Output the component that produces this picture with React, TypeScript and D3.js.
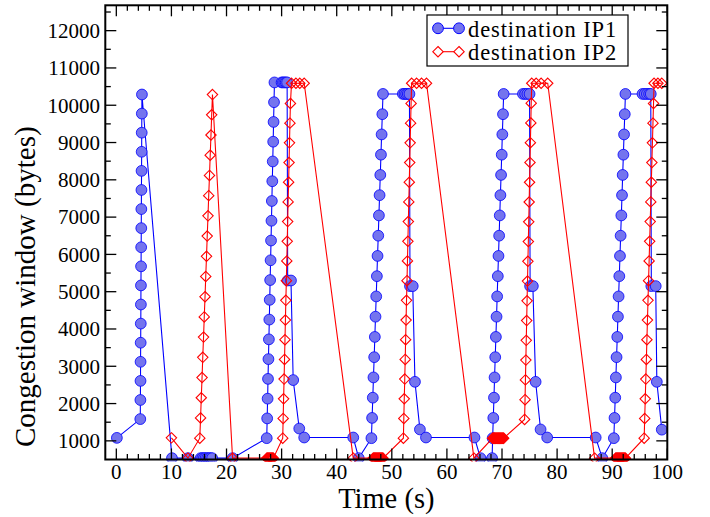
import React from "react";
import * as d3 from "d3";

// ---- data (time in s, congestion window in bytes) ----
const blueTime = [
  0.1,
  4.35, 4.37, 4.39, 4.4, 4.42, 4.44, 4.46, 4.47, 4.49, 4.51, 4.53, 4.54, 4.56, 4.58, 4.6, 4.61, 4.63, 4.65,
  10.1, 13.0, 15.3, 15.6, 15.9, 16.2, 16.5, 16.8, 17.1, 17.4, 21.1,
  27.3, 27.38, 27.46, 27.53, 27.61, 27.69, 27.77, 27.84, 27.92, 28.0, 28.08, 28.16, 28.23, 28.31, 28.39, 28.47, 28.54, 28.62, 28.7,
  30.0, 30.25, 30.5, 30.75, 31.0,
  31.1, 31.7, 32.1, 33.2, 34.1, 43.0, 44.0,
  46.3, 46.42, 46.55, 46.67, 46.8, 46.92, 47.04, 47.17, 47.29, 47.41, 47.54, 47.66, 47.78, 47.91, 48.03, 48.15, 48.28, 48.4,
  52.0, 52.3, 52.6, 52.9, 53.2,
  53.3, 53.8, 54.2, 55.1, 56.2, 65.0, 66.1, 68.2,
  68.3, 68.42, 68.54, 68.65, 68.77, 68.89, 69.01, 69.12, 69.24, 69.36, 69.48, 69.59, 69.71, 69.83, 69.95, 70.06, 70.18, 70.3,
  73.8, 74.2, 74.6, 75.0,
  75.1, 75.6, 76.1, 77.0, 78.2, 87.0, 88.2,
  90.3, 90.42, 90.55, 90.67, 90.79, 90.92, 91.04, 91.16, 91.29, 91.41, 91.53, 91.66, 91.78, 91.9, 92.03, 92.15, 92.28, 92.4,
  95.5, 95.9, 96.3, 96.7, 97.0,
  97.1, 97.9, 98.1, 99.0,
];
const blueCwnd = [
  1080,
  1584, 2096, 2608, 3120, 3632, 4144, 4656, 5168, 5680, 6192, 6704, 7216, 7728, 8240, 8752, 9264, 9776, 10288,
  536, 536, 536, 536, 536, 536, 536, 536, 536, 536, 536,
  1072, 1602, 2132, 2662, 3192, 3722, 4252, 4782, 5312, 5842, 6372, 6902, 7432, 7962, 8492, 9022, 9552, 10082, 10612,
  10612, 10612, 10612, 10612, 10612,
  5300, 5300, 2630, 1330, 1090, 1090, 536,
  1072, 1615, 2158, 2701, 3244, 3787, 4330, 4873, 5416, 5959, 6502, 7045, 7588, 8131, 8674, 9217, 9760, 10303,
  10303, 10303, 10303, 10303, 10303,
  5150, 5150, 2583, 1306, 1090, 1090, 536, 536,
  1072, 1615, 2158, 2701, 3244, 3787, 4330, 4873, 5416, 5959, 6502, 7045, 7588, 8131, 8674, 9217, 9760, 10303,
  10303, 10303, 10303, 10303,
  5150, 5150, 2583, 1306, 1090, 1090, 536,
  1072, 1615, 2158, 2701, 3244, 3787, 4330, 4873, 5416, 5959, 6502, 7045, 7588, 8131, 8674, 9217, 9760, 10303,
  10303, 10303, 10303, 10303, 10303,
  5150, 5150, 2583, 1300,
];

const redTime = [
  10.0, 13.0,
  15.15, 15.29, 15.42, 15.56, 15.69, 15.83, 15.96, 16.1, 16.23, 16.37, 16.5, 16.64, 16.77, 16.91, 17.04, 17.18, 17.31, 17.45,
  21.1,
  27.3, 27.4, 27.5, 27.6, 27.7, 27.8, 27.9, 28.0, 28.1, 28.2, 28.3, 28.4, 28.5,
  30.2, 30.28, 30.36, 30.45, 30.53, 30.61, 30.69, 30.77, 30.86, 30.94, 31.02, 31.1, 31.18, 31.27, 31.35, 31.43, 31.51, 31.6,
  31.8, 32.6, 33.3, 34.1,
  43.0,
  46.6, 46.7, 46.8, 46.9, 47.0, 47.1, 47.2, 47.3, 47.4, 47.5, 47.6, 47.7, 47.8, 47.9, 48.0, 48.1, 48.2, 48.3, 48.4,
  52.1, 52.18, 52.26, 52.35, 52.43, 52.51, 52.59, 52.67, 52.76, 52.84, 52.92, 53.0, 53.08, 53.17, 53.25, 53.33, 53.41, 53.5,
  53.6, 54.5, 55.4, 56.3,
  64.9,
  68.3, 68.4, 68.5, 68.6, 68.7, 68.8, 68.9, 69.0, 69.1, 69.2, 69.3, 69.4, 69.5, 69.6, 69.7, 69.8, 69.9, 70.0, 70.1, 70.2, 70.3,
  74.1, 74.18, 74.25, 74.33, 74.4, 74.48, 74.55, 74.63, 74.7, 74.78, 74.85, 74.93, 75.0, 75.08, 75.15, 75.23, 75.3,
  75.4, 76.2, 77.1, 78.3,
  86.8,
  90.6, 90.7, 90.8, 90.9, 91.0, 91.1, 91.2, 91.3, 91.4, 91.5, 91.6, 91.7, 91.8, 91.9, 92.0, 92.1, 92.2, 92.3, 92.4,
  95.8, 95.9, 96.0, 96.1, 96.2, 96.3, 96.4, 96.5, 96.6, 96.7, 96.8, 96.9, 97.0, 97.1, 97.2, 97.3, 97.4, 97.5,
  97.6, 98.3, 99.0,
];
const redCwnd = [
  1080, 536,
  1072, 1614, 2156, 2698, 3240, 3782, 4324, 4866, 5408, 5950, 6492, 7034, 7576, 8118, 8660, 9202, 9744, 10286,
  536,
  536, 536, 536, 536, 536, 536, 536, 536, 536, 536, 536, 536, 536,
  1072, 1600, 2128, 2656, 3184, 3712, 4240, 4768, 5296, 5824, 6352, 6880, 7408, 7936, 8464, 8992, 9520, 10048,
  10590, 10590, 10590, 10590,
  536,
  536, 536, 536, 536, 536, 536, 536, 536, 536, 536, 536, 536, 536, 536, 536, 536, 536, 536, 536,
  1072, 1600, 2128, 2656, 3184, 3712, 4240, 4768, 5296, 5824, 6352, 6880, 7408, 7936, 8464, 8992, 9520, 10048,
  10590, 10590, 10590, 10590,
  536,
  1072, 1072, 1072, 1072, 1072, 1072, 1072, 1072, 1072, 1072, 1072, 1072, 1072, 1072, 1072, 1072, 1072, 1072, 1072, 1072, 1072,
  1575, 2105, 2635, 3165, 3695, 4225, 4755, 5285, 5815, 6345, 6875, 7405, 7935, 8465, 8995, 9525, 10055,
  10590, 10590, 10590, 10590,
  536,
  536, 536, 536, 536, 536, 536, 536, 536, 536, 536, 536, 536, 536, 536, 536, 536, 536, 536, 536,
  1072, 1600, 2128, 2656, 3184, 3712, 4240, 4768, 5296, 5824, 6352, 6880, 7408, 7936, 8464, 8992, 9520, 10048,
  10590, 10590, 10590,
];

const xTicks = [0, 10, 20, 30, 40, 50, 60, 70, 80, 90, 100];
const yTicks = [1000, 2000, 3000, 4000, 5000, 6000, 7000, 8000, 9000, 10000, 11000, 12000];
const seriesNames = ["destination IP1", "destination IP2"];

const FONT = "Liberation Serif, Times New Roman, Times, serif";
const BLUE = "#0000ff";
const BLUE_FILL = "#7474ee";
const RED = "#ff0000";

const L = 105.3, R = 667.3, T = 5.3, B = 459.5;

function diamond(cx: number, cy: number, h = 5.2) {
  return `M${cx},${cy - h}L${cx + h},${cy}L${cx},${cy + h}L${cx - h},${cy}Z`;
}

export default function App() {
  const x = d3.scaleLinear().domain([-2, 100]).range([L, R]);
  const y = d3.scaleLinear().domain([500, 12680]).range([B, T]);

  const blue = blueTime.map((t, i) => [t, blueCwnd[i]] as [number, number]);
  const red = redTime.map((t, i) => [t, redCwnd[i]] as [number, number]);
  const line = d3.line<[number, number]>().x((d) => x(d[0])).y((d) => y(d[1]));

  const xMinor = d3.range(0, 101, 2).filter((v) => v % 10 !== 0);
  const yMinor = d3.range(1500, 12680, 1000);

  return (
    <svg width={710} height={517} style={{ position: "absolute", left: 0, top: 0, background: "#fff" }}>
      <defs>
        <clipPath id="plotclip">
          <rect x={L} y={T - 2} width={R - L + 3} height={B - T + 4} />
        </clipPath>
      </defs>
      <rect x={0} y={0} width={710} height={517} fill="#fff" />
      <g clipPath="url(#plotclip)">
        <path d={line(blue) || ""} fill="none" stroke={BLUE} strokeWidth={1.1} />
        {blue.map((d, i) => (
          <circle key={"b" + i} cx={x(d[0])} cy={y(d[1])} r={5.4} fill={BLUE_FILL} stroke={BLUE} strokeWidth={1} strokeOpacity={0.8} />
        ))}
        <path d={line(red) || ""} fill="none" stroke={RED} strokeWidth={1.1} />
        {red.map((d, i) => (
          <path key={"r" + i} d={diamond(x(d[0]), y(d[1]))} fill="none" stroke={RED} strokeWidth={1.1} />
        ))}
      </g>

      {/* frame */}
      <rect x={L} y={T} width={R - L} height={B - T} fill="none" stroke="#000" strokeWidth={2} />

      {/* x ticks */}
      {xTicks.map((v) => (
        <g key={"xt" + v}>
          <line x1={x(v)} x2={x(v)} y1={B} y2={B - 11} stroke="#000" strokeWidth={1.3} />
          <line x1={x(v)} x2={x(v)} y1={T} y2={T + 11} stroke="#000" strokeWidth={1.3} />
          <text x={x(v)} y={478.5} textAnchor="middle" fontFamily={FONT} fontSize={21} fill="#000">
            {v}
          </text>
        </g>
      ))}
      {xMinor.map((v) => (
        <g key={"xm" + v}>
          <line x1={x(v)} x2={x(v)} y1={B} y2={B - 5.5} stroke="#000" strokeWidth={1.3} />
          <line x1={x(v)} x2={x(v)} y1={T} y2={T + 5.5} stroke="#000" strokeWidth={1.3} />
        </g>
      ))}

      {/* y ticks */}
      {yTicks.map((v) => (
        <g key={"yt" + v}>
          <line x1={L} x2={L + 11} y1={y(v)} y2={y(v)} stroke="#000" strokeWidth={1.3} />
          <line x1={R} x2={R - 11} y1={y(v)} y2={y(v)} stroke="#000" strokeWidth={1.3} />
          <text x={100} y={y(v)} dy="0.35em" textAnchor="end" fontFamily={FONT} fontSize={21} fill="#000">
            {v}
          </text>
        </g>
      ))}
      {yMinor.map((v) => (
        <g key={"ym" + v}>
          <line x1={L} x2={L + 5.5} y1={y(v)} y2={y(v)} stroke="#000" strokeWidth={1.3} />
          <line x1={R} x2={R - 5.5} y1={y(v)} y2={y(v)} stroke="#000" strokeWidth={1.3} />
        </g>
      ))}

      {/* axis titles */}
      <text x={(L + R) / 2} y={508} textAnchor="middle" fontFamily={FONT} fontSize={28.5} fill="#000">
        Time (s)
      </text>
      <text
        transform={`translate(35,447) rotate(-90)`}
        textAnchor="start"
        fontFamily={FONT}
        fontSize={29}
        fill="#000"
      >
        Congestion window (bytes)
      </text>

      {/* legend */}
      <rect x={427} y={15} width={201} height={51} fill="#fff" stroke="#000" strokeWidth={1.2} />
      <line x1={438} x2={459} y1={28.3} y2={28.3} stroke={BLUE} strokeWidth={1.1} />
      <circle cx={438} cy={28.3} r={5.4} fill={BLUE_FILL} stroke={BLUE} strokeWidth={1} />
      <circle cx={459} cy={28.3} r={5.4} fill={BLUE_FILL} stroke={BLUE} strokeWidth={1} />
      <text x={468} y={36.5} fontFamily={FONT} fontSize={22.5} letterSpacing={0.9} fill="#000">
        {seriesNames[0]}
      </text>
      <line x1={438} x2={459} y1={51.7} y2={51.7} stroke={RED} strokeWidth={1.1} />
      <path d={diamond(438, 51.7)} fill="#fff" stroke={RED} strokeWidth={1.1} />
      <path d={diamond(459, 51.7)} fill="#fff" stroke={RED} strokeWidth={1.1} />
      <text x={468} y={60} fontFamily={FONT} fontSize={22.5} letterSpacing={0.9} fill="#000">
        {seriesNames[1]}
      </text>
    </svg>
  );
}
